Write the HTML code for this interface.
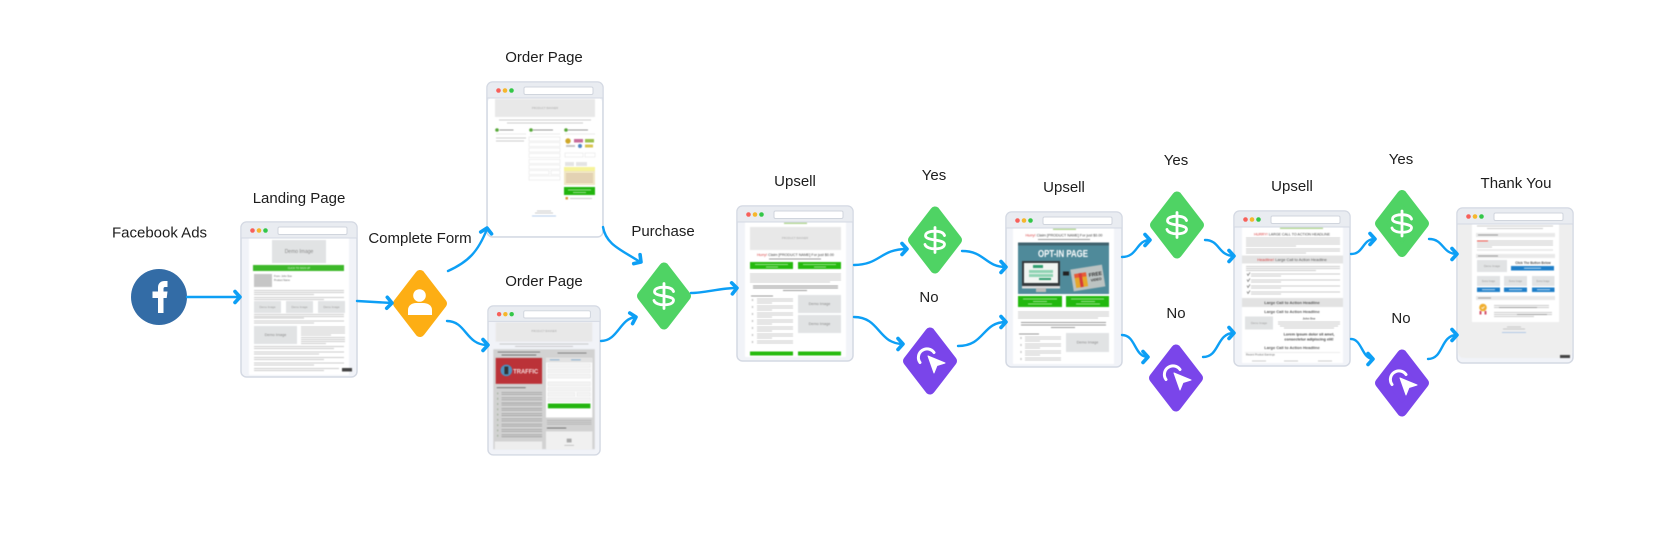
<!DOCTYPE html>
<html><head><meta charset="utf-8"><title>Funnel</title>
<style>
html,body{margin:0;padding:0;background:#fff;width:1680px;height:543px;overflow:hidden}
svg{display:block;filter:blur(.3px)}
.lb{font-family:"Liberation Sans",sans-serif;font-size:15px;fill:#1d1d1d;text-anchor:middle;dominant-baseline:central}
.b{filter:blur(.45px)}
.t{font-family:"Liberation Sans",sans-serif;text-anchor:middle;fill:#666}
.l{stroke:#bcbcbc;stroke-width:.8;fill:none}
.d{stroke:#9a9a9a;stroke-width:.9;fill:none}
.a{stroke:#0d9ff5;stroke-width:2.4;fill:none;stroke-linecap:round}
.h{stroke:#0d9ff5;stroke-width:3.6;fill:none;stroke-linecap:round;stroke-linejoin:round}
</style></head><body>
<svg xmlns="http://www.w3.org/2000/svg" width="1680" height="543" viewBox="0 0 1680 543">
<defs>
<g id="chrome">
<rect x="0" y="0" width="116" height="155" rx="5.5" fill="#f1f3f8" stroke="#d4d9e3" stroke-width="1.5"/>
</g>
<g id="bar">
<path d="M0 16V5.5A5.5 5.5 0 0 1 5.500 0H110.500A5.500 5.500 0 0 1 116 5.500V16Z" fill="#e9ecf1" stroke="#d4d9e3" stroke-width="1"/>
<circle cx="11.500" cy="8.500" r="2.300" fill="#f8605a"/><circle cx="18" cy="8.500" r="2.300" fill="#f6b62c"/><circle cx="24.500" cy="8.500" r="2.300" fill="#33c748"/>
<rect x="37" y="5" width="69" height="7.500" rx="1.500" fill="#fff" stroke="#d0d5dd" stroke-width="1"/>
</g>
<path id="hd" d="M-5 -5.500L0 0L-5 5.500"/>
<g id="dollar"><path d="M9.500 -4.500C8.500 -7.500 4.500 -8.800 0 -8.800C-5.500 -8.800 -9.500 -7.300 -9.500 -4.300C-9.500 1 9.500 -1 9.500 4.300C9.500 7.300 5.500 8.800 0 8.800C-4.500 8.800 -9 7.500 -10 4.500M0 -12.500V12.500" fill="none" stroke="#fff" stroke-width="2.800" stroke-linecap="round"/></g>
<g id="green"><polygon points="0,-28.500 22,0 0,28.500 -22,0" fill="#4fd364" stroke="#4fd364" stroke-width="10" stroke-linejoin="round"/><use href="#dollar"/></g>
<g id="purple"><polygon points="0,-28.500 22,0 0,28.500 -22,0" fill="#7a45ea" stroke="#7a45ea" stroke-width="10" stroke-linejoin="round"/>
<path d="M4 -8.500A7.500 7.500 0 1 0 -10 1.500" fill="none" stroke="#fff" stroke-width="3" stroke-linecap="round"/>
<path d="M-2 -5L15 2L7 4.500L4 12Z" fill="#fff" stroke="#fff" stroke-width="1" stroke-linejoin="round"/></g>
</defs>

<!-- Landing -->
<g transform="translate(241,222)"><use href="#chrome"/>
<g class="b">
<rect x="8" y="16" width="100" height="137" fill="#fff"/>
<rect x="31" y="18" width="54" height="23" fill="#e1e3e4"/><text class="t" x="58" y="31" font-size="5" style="fill:#888">Demo Image</text>
<rect x="12" y="43" width="91" height="6" fill="#3db82a"/><text class="t" x="58" y="47" font-size="2.500" style="fill:#e8f6e4">CLICK TO SIGN UP</text>
<rect x="13" y="52" width="18" height="13" fill="#c6c6c6"/>
<text x="33" y="55" font-size="2.500" fill="#666" font-family="Liberation Sans">From: John Doe</text><text x="33" y="59" font-size="2.500" fill="#666" font-family="Liberation Sans">Product Name</text>
<path class="l" d="M13 68.500h90M13 70.500h90M13 72.500h60M13 75.500h90M13 77.500h70"/>
<rect x="13" y="79" width="27" height="12" fill="#e1e3e4"/><rect x="45" y="79" width="27" height="12" fill="#e1e3e4"/><rect x="77" y="79" width="27" height="12" fill="#e1e3e4"/>
<text class="t" x="26.500" y="86" font-size="2.800" style="fill:#999">Demo Image</text><text class="t" x="58.500" y="86" font-size="2.800" style="fill:#999">Demo Image</text><text class="t" x="90.500" y="86" font-size="2.800" style="fill:#999">Demo Image</text>
<path class="l" d="M13 92.500h90M13 94.500h90M13 96h50M13 99h90M13 101h60"/>
<rect x="13" y="104" width="43" height="18" fill="#e1e3e4"/><text class="t" x="34.500" y="114" font-size="3.800" style="fill:#888">Demo Image</text>
<path class="l" d="M60 105h44M60 107h44M60 109h44M60 111h44M60 113h30M60 115.500h44M60 117.500h44M60 119.500h44M60 121.500h25"/>
<path class="l" d="M13 124.500h90M13 126.500h80M13 130h90M13 132h65M13 135.500h90M13 137.500h70M13 141h90M13 143h60M13 146.500h85M13 148.500h70"/>
<rect x="101" y="146" width="10" height="3.500" fill="#444"/>
</g>
<use href="#bar"/></g>

<!-- Order top -->
<g transform="translate(487,82)"><use href="#chrome"/><rect x="1" y="16" width="114" height="138" rx="4" fill="#fff"/>
<g class="b">
<rect x="8" y="17" width="100" height="18" fill="#e8e8e8"/><text class="t" x="58" y="27" font-size="2.800" style="fill:#aaa">PRODUCT BANNER</text>
<path class="l" d="M12 38h92M20 41h76"/>
<circle cx="10" cy="48" r="1.800" fill="#58a83a"/><circle cx="44" cy="48" r="1.800" fill="#58a83a"/><circle cx="79" cy="48" r="1.800" fill="#58a83a"/>
<path class="d" d="M12.500 48h14M46 48h20M81 48h20"/>
<path d="M9 52h30M43 52h30M78 52h30" stroke="#e3e3e3" stroke-width=".7"/>
<path class="l" d="M9 56h30M9 59h28"/>
<g fill="#fff" stroke="#e4e4e4" stroke-width=".6"><rect x="42" y="55" width="31" height="4"/><rect x="42" y="60.500" width="31" height="4"/><rect x="42" y="66" width="31" height="4"/><rect x="42" y="71.500" width="31" height="4"/><rect x="42" y="77.500" width="31" height="4"/><rect x="42" y="83" width="31" height="4"/><rect x="42" y="88.500" width="20" height="4"/><rect x="64" y="88.500" width="9" height="4"/><rect x="42" y="94" width="31" height="4"/>
<rect x="78" y="71" width="18" height="4"/><rect x="98" y="71" width="10" height="4"/></g>
<circle cx="81" cy="59" r="2.700" fill="#cfa72a"/><rect x="87" y="57" width="9" height="3.500" fill="#c86c9a"/><rect x="98" y="57" width="9" height="3.500" fill="#9cc24e"/>
<rect x="79" y="63" width="9" height="2" fill="#c7c7c7"/><circle cx="93" cy="64" r="2" fill="#4e85c4"/><rect x="98" y="62.500" width="8" height="3" fill="#d8c44e"/>
<rect x="78" y="80" width="9" height="4" fill="#e4e4e4"/><rect x="89" y="80" width="11" height="4" fill="#e4e4e4"/>
<rect x="77" y="85" width="31" height="18" fill="#f0e6c4"/><rect x="77" y="85" width="31" height="4" fill="#f6f39a"/><path class="d" d="M79 92h27M79 94h27M79 96h27M79 98h27M79 100h27" style="stroke:#d6bda2"/>
<rect x="77" y="105" width="31" height="8" fill="#22b50e"/><path d="M81 108h23M86 110.500h13" stroke="#bfeab8" stroke-width=".8"/>
<rect x="78.500" y="115" width="2.500" height="2.500" fill="#d89a3a"/><path class="l" d="M83 116.500h22"/>
<path class="l" d="M50 129h14M48 131h18"/><path d="M45 134h24" stroke="#9dbce3" stroke-width=".8"/>
</g><use href="#bar"/></g>

<!-- Order bottom -->
<g transform="translate(488,306) scale(.966,.961)"><use href="#chrome"/><rect x="1" y="16" width="114" height="138" rx="4" fill="#f1f3f8"/>
<g class="b">
<rect x="8" y="17" width="100" height="20" fill="#e8e8e8"/><text class="t" x="58" y="27" font-size="2.800" style="fill:#aaa">PRODUCT BANNER</text>
<path class="l" d="M12 39.500h92M28 42h60"/>
<rect x="5.500" y="45" width="105" height="104" fill="#d2d2d2"/>
<path d="M10 48h44M14 51h36" stroke="#666" stroke-width=".9"/>
<rect x="8" y="54" width="48" height="27" fill="#bb3238"/><circle cx="19" cy="67" r="6" fill="#4d91bf"/><rect x="17" y="63" width="4" height="8" fill="#333"/>
<text x="26" y="70" font-size="7" font-weight="bold" fill="#f5e0e0" font-family="Liberation Sans" textLength="26" lengthAdjust="spacingAndGlyphs">TRAFFIC</text>
<path d="M9 85h30" stroke="#666" stroke-width=".9"/>
<path d="M14 90h42M14 92h42M14 95.500h42M14 97.500h42M14 101h42M14 103h42M14 106.500h42M14 108.500h42M14 112h42M14 114h42M14 117.500h42M14 119.500h42M14 123h42M14 125h42M14 128.500h42M14 130.500h42M14 134h42M14 136h42" stroke="#9e9e9e" stroke-width=".8"/>
<path d="M10 90v47" stroke="#a9b5a5" stroke-width="1.300" stroke-dasharray="2 3.500"/>
<rect x="7" y="141" width="49" height="8" fill="#eeeeee"/>
<path d="M72 49h30" stroke="#777" stroke-width=".9"/>
<rect x="60" y="54" width="48" height="62" fill="#fff"/><path d="M60 56.500h48" stroke="#e2e2e2" stroke-width="4.500"/><path d="M64 56h10M86 56h10" stroke="#7ba6cc" stroke-width="1"/>
<g fill="#f3f3f3" stroke="#e4e4e4" stroke-width=".5"><rect x="62" y="60" width="44" height="4"/><rect x="62" y="65.500" width="44" height="4"/><rect x="62" y="71" width="44" height="4"/><rect x="62" y="79" width="44" height="4"/><rect x="62" y="84.500" width="44" height="4"/><rect x="62" y="90" width="28" height="4"/><rect x="92" y="90" width="14" height="4"/><rect x="62" y="95.500" width="44" height="4"/></g>
<rect x="62" y="101.500" width="44" height="5" fill="#22b50e"/>
<path d="M61 119h46M61 121h46M61 123h46" stroke="#ababab" stroke-width=".7"/>
<path d="M61 127h20" stroke="#666" stroke-width=".9"/>
<rect x="60" y="130.500" width="48" height="18.500" fill="#f0f0f0"/><rect x="81.500" y="138" width="5" height="4" fill="#aaa"/><path d="M79 145h10" stroke="#bbb" stroke-width=".8"/>
</g><use href="#bar"/></g>

<!-- Upsell 1 -->
<g transform="translate(737,206)"><use href="#chrome"/>
<g class="b">
<rect x="8" y="16" width="101" height="135" fill="#fff"/>
<rect x="47" y="16" width="23" height="2" fill="#b7d89b"/>
<rect x="13" y="21" width="91" height="23" fill="#e8e8e8"/><text class="t" x="58" y="33" font-size="2.800" style="fill:#aaa">PRODUCT BANNER</text>
<text class="t" x="58.500" y="50" font-size="3.700" style="fill:#444"><tspan fill="#d83a3a">Hurry!</tspan> Claim [PRODUCT NAME] For just $0.00</text>
<path class="d" d="M32 53h52"/>
<rect x="13" y="56" width="43" height="7" fill="#25ba0e"/><rect x="61" y="56" width="43" height="7" fill="#25ba0e"/>
<path d="M18 58.500h33M29 61h12M66 58.500h33M77 61h12" stroke="#b9ecae" stroke-width=".7"/>
<path class="l" d="M13 68h91M13 70h91M13 72h91M13 74h91M13 76h80"/><path class="d" d="M16 80h85M16 82h85M46 84.500h24"/>
<path class="d" d="M14 90h22"/>
<path class="l" d="M20 93h36M20 95h36M20 97h15M20 100h36M20 102h36M20 104h15M20 107h36M20 109h36M20 111h15M20 114h36M20 116h36M20 118h15M20 121h36M20 123h36M20 125h15M20 128h36M20 130h36M20 132h15M20 135h36M20 137h36"/>
<path d="M15.500 93v44" stroke="#c4c4c4" stroke-width="1.300" stroke-dasharray="2 5"/>
<rect x="61" y="89" width="43" height="18" fill="#e1e3e4"/><rect x="61" y="109" width="43" height="18" fill="#e1e3e4"/>
<text class="t" x="82.500" y="99" font-size="3.800" style="fill:#888">Demo Image</text><text class="t" x="82.500" y="119" font-size="3.800" style="fill:#888">Demo Image</text>
<rect x="13" y="145.500" width="43" height="4" fill="#25ba0e"/><rect x="61" y="145.500" width="43" height="4" fill="#25ba0e"/>
</g><use href="#bar"/></g>

<!-- Upsell 2 -->
<g transform="translate(1006,212)"><use href="#chrome"/>
<g class="b">
<rect x="7" y="16" width="101" height="136" fill="#fff"/>
<rect x="47" y="16" width="23" height="2" fill="#b7d89b"/>
<text class="t" x="58" y="24.500" font-size="3.700" style="fill:#444"><tspan fill="#d83a3a">Hurry!</tspan> Claim [PRODUCT NAME] For just $0.00</text>
<path class="d" d="M32 27.500h52"/>
<rect x="12" y="30.500" width="91" height="51.500" fill="#4f8a9a"/><rect x="12" y="30.500" width="91" height="3" fill="#3f626e"/>
<text x="57" y="45" font-size="10.500" font-weight="bold" fill="#fff" text-anchor="middle" font-family="Liberation Sans" textLength="50" lengthAdjust="spacingAndGlyphs">OPT-IN PAGE</text>
<rect x="16" y="49" width="38" height="25" fill="#35393c"/><rect x="18" y="51" width="34" height="20" fill="#f2f5f2"/>
<rect x="27" y="53" width="10" height="3" fill="#2f9e6e"/><rect x="23" y="58" width="24" height="3" fill="#8fd3b3"/><rect x="23" y="62" width="24" height="3" fill="#8fd3b3"/><rect x="33" y="66" width="12" height="2" fill="#2f9e6e"/>
<rect x="16" y="74" width="38" height="2.500" fill="#ddd"/><rect x="30" y="76" width="10" height="4" fill="#bbb"/>
<rect x="57" y="59.500" width="6" height="4" fill="#222"/>
<g transform="rotate(-9 82 67)"><rect x="66" y="55" width="32" height="22" fill="#bcc3c2"/>
<rect x="69" y="63" width="12" height="11" fill="#e6a72a"/><rect x="69" y="60" width="12" height="4" fill="#e85a35"/><rect x="73.500" y="60" width="3" height="14" fill="#d43a3a"/>
<text x="90" y="65" font-size="5" font-weight="bold" fill="#333" text-anchor="middle" font-family="Liberation Sans">FREE</text><text x="90" y="70" font-size="3.500" font-weight="bold" fill="#333" text-anchor="middle" font-family="Liberation Sans">VIDEO</text></g>
<rect x="12" y="84" width="44" height="11" fill="#22b80e"/><rect x="60" y="84" width="43" height="11" fill="#22b80e"/>
<path d="M17 87h34M27 89.500h14M22 92h24M65 87h33M75 89.500h14M70 92h24" stroke="#bdecb4" stroke-width=".7"/>
<path class="l" d="M12 100h91M12 102h91M12 104h91M12 106h80"/><path class="d" d="M15 110.500h85M15 113h85M45 115.500h24"/>
<path class="d" d="M13 122h20"/>
<path class="l" d="M19 125h36M19 127h36M19 129h15M19 132h36M19 134h36M19 136h15M19 139h36M19 141h36M19 143h15M19 146h36M19 148h36"/>
<path d="M15 125v24" stroke="#c4c4c4" stroke-width="1.300" stroke-dasharray="2 5"/>
<rect x="60" y="121" width="43" height="19" fill="#e1e3e4"/><text class="t" x="81.500" y="131.500" font-size="3.800" style="fill:#888">Demo Image</text>
</g><use href="#bar"/></g>

<!-- Upsell 3 -->
<g transform="translate(1234,211)"><use href="#chrome"/>
<g class="b">
<rect x="8" y="16" width="101" height="136" fill="#fff"/>
<rect x="46" y="16" width="43" height="2" fill="#b7d89b"/>
<text class="t" x="58" y="24.500" font-size="3.600" style="fill:#444"><tspan fill="#d83a3a">HURRY!</tspan> LARGE CALL TO ACTION HEADLINE</text>
<path class="l" d="M12 27h94M12 29h94M12 31h94M12 33h94M12 35h50M12 38h94M12 40h94M12 42h60"/>
<rect x="8" y="44.500" width="101" height="8" fill="#e4e4e4"/><text class="t" x="58" y="50" font-size="4" style="fill:#555"><tspan fill="#d83a3a">Headline!</tspan> Large Call to Action Headline</text>
<path class="l" d="M12 55.500h94M12 57.500h94M12 59.500h70"/>
<path class="l" d="M17 63h89M17 65h30M17 69h89M17 71h30M17 75h89M17 77h30M17 81h89M17 83h30"/>
<path d="M13 62.500l1 2 2-3M13 68.500l1 2 2-3M13 74.500l1 2 2-3M13 80.500l1 2 2-3" stroke="#777" stroke-width=".7" fill="none"/>
<rect x="8" y="87" width="101" height="9" fill="#e2e2e2"/><text class="t" x="58" y="93" font-size="4" font-weight="bold" style="fill:#555">Large Call to Action Headline</text>
<text class="t" x="58" y="102" font-size="4" font-weight="bold" style="fill:#555">Large Call to Action Headline</text>
<rect x="11" y="105.500" width="28" height="13" fill="#e1e3e4"/><text class="t" x="25" y="113" font-size="2.800" style="fill:#999">Demo Image</text>
<text class="t" x="75" y="108.500" font-size="2.800" font-weight="bold" style="fill:#555">John Doe</text>
<path class="l" d="M44 111h62M44 113h62M46 115h58M50 117h50"/>
<text class="t" x="75" y="124.500" font-size="3.800" font-weight="bold" style="fill:#444">Lorem ipsum dolor sit amet,</text><text class="t" x="75" y="129.500" font-size="3.800" font-weight="bold" style="fill:#444">consectetur adipiscing elit!</text>
<text class="t" x="58" y="138" font-size="4" font-weight="bold" style="fill:#555">Large Call to Action Headline</text>
<path d="M11 141.500h95" stroke="#e6e6e6" stroke-width=".8"/>
<text x="12" y="144.500" font-size="2.600" fill="#666" font-family="Liberation Sans">Recent Product Earnings</text>
<path class="l" d="M18 150h14M50 150h14M84 150h14"/>
</g><use href="#bar"/></g>

<!-- Thank You -->
<g transform="translate(1457,208)"><use href="#chrome"/>
<g class="b">
<path d="M1 16H115V144A6 6 0 0 1 109 150H7A6 6 0 0 1 1 144Z" fill="#eeeeee"/>
<rect x="15" y="16" width="87" height="98" fill="#fff"/>
<path class="l" d="M20 18h76M30 20.500h56"/>
<rect x="19" y="25" width="79" height="4" fill="#e9e9e9"/><path class="d" d="M21 27h20"/>
<path d="M20 33h11" stroke="#e0473c" stroke-width="1"/><path class="l" d="M31 33h65M20 35h76M20 37h76M20 39h15"/>
<path d="M20 42h76" stroke="#e2e2e2" stroke-width="1.300"/>
<rect x="19" y="46" width="79" height="4" fill="#e9e9e9"/><path class="d" d="M21 48h20"/>
<rect x="20" y="52" width="30" height="12" fill="#e1e3e4"/><text class="t" x="35" y="59" font-size="2.800" style="fill:#999">Demo Image</text>
<text class="t" x="76" y="56" font-size="3.200" font-weight="bold" style="fill:#555">Click The Button Below</text>
<rect x="54" y="58" width="43" height="4.500" fill="#1f7fc9"/><path d="M67 60.200h17" stroke="#cfe6f7" stroke-width=".8"/>
<rect x="20" y="68" width="23" height="10" fill="#e1e3e4"/><rect x="47" y="68" width="23" height="10" fill="#e1e3e4"/><rect x="75" y="68" width="22.500" height="10" fill="#e1e3e4"/>
<text class="t" x="31.500" y="74" font-size="2.300" style="fill:#999">Demo Image</text><text class="t" x="58.500" y="74" font-size="2.300" style="fill:#999">Demo Image</text><text class="t" x="86" y="74" font-size="2.300" style="fill:#999">Demo Image</text>
<rect x="20" y="79.500" width="23" height="4.500" fill="#1f7fc9"/><rect x="47" y="79.500" width="23" height="4.500" fill="#1f7fc9"/><rect x="75" y="79.500" width="22.500" height="4.500" fill="#1f7fc9"/>
<path d="M25 81.700h13M52 81.700h13M80 81.700h13" stroke="#cfe6f7" stroke-width=".8"/>
<rect x="19" y="88" width="79" height="4" fill="#e9e9e9"/><path class="d" d="M21 90h13"/>
<circle cx="26" cy="99.500" r="3.800" fill="#f0ae2e"/><path d="M24.500 99.500l1 1 2-2" stroke="#fff" stroke-width=".8" fill="none"/><path d="M23.500 103v3.500M28.500 103v3.500" stroke="#d6506a" stroke-width="2"/>
<path class="l" d="M37 97.500h55M37 99.500h55M37 104.500h58M37 106.500h58M37 108.500h40"/><path class="d" d="M42 99.500h38M60 106.500h30"/>
<path class="l" d="M50 119h14M46 121h22"/><path d="M45 124.500h24" stroke="#9dbce3" stroke-width=".8"/>
<rect x="103" y="147" width="10" height="3" fill="#444"/>
</g><use href="#bar"/></g>

<!-- Facebook -->
<circle cx="159" cy="297" r="28" fill="#336ca6"/>
<path d="M158 313V298H152.500V291.500H158V287.500C158 283 161 281 164.500 281H167.500V287H165C164 287 163.500 287.600 163.500 288.800V291.500H167.500L166.700 298H163.500V313Z" fill="#fff"/>

<!-- Diamonds -->
<g transform="translate(420,303.500)"><polygon points="0,-28.500 22,0 0,28.500 -22,0" fill="#fdae14" stroke="#fdae14" stroke-width="10" stroke-linejoin="round"/>
<circle cx="-.5" cy="-8" r="6.300" fill="#fff"/><path d="M-12 11.500V6.500C-12 2 -8 -.5 -4 -.5H3C8 -.5 12 2 12 6.500V11.500Z" fill="#fff"/></g>
<use href="#green" x="664" y="296"/>
<use href="#green" x="935" y="240"/>
<use href="#purple" x="930" y="361"/>
<use href="#green" x="1177" y="225"/>
<use href="#purple" x="1176" y="378"/>
<use href="#green" x="1402" y="223.500"/>
<use href="#purple" x="1402" y="383"/>

<!-- Connectors -->
<path class="a" d="M187 297H240"/><use class="h" href="#hd" transform="translate(240,297)"/>
<path class="a" d="M357 301L392 303"/><use class="h" href="#hd" transform="translate(392,303) rotate(3)"/>
<path class="a" d="M448 271C468 262 478 252 487 229"/><use class="h" href="#hd" transform="translate(487,228) rotate(-80)"/>
<path class="a" d="M447 321C466 321 466 345 487 345"/><use class="h" href="#hd" transform="translate(488,345)"/>
<path class="a" d="M603 227C606 245 622 250 640 262"/><use class="h" href="#hd" transform="translate(641,262) rotate(35)"/>
<path class="a" d="M601 341C618 341 620 318 636 317"/><use class="h" href="#hd" transform="translate(636,317) rotate(-15)"/>
<path class="a" d="M691 293C705 293 720 288 737 288"/><use class="h" href="#hd" transform="translate(737,288) rotate(-4)"/>
<path class="a" d="M854 265C880 265 880 249 907 249"/><use class="h" href="#hd" transform="translate(907,249)"/>
<path class="a" d="M854 317C880 317 878 344 903 344"/><use class="h" href="#hd" transform="translate(903,344)"/>
<path class="a" d="M962 251C985 251 985 267 1006 267"/><use class="h" href="#hd" transform="translate(1006,267)"/>
<path class="a" d="M958 346C985 346 982 322 1006 322"/><use class="h" href="#hd" transform="translate(1006,322)"/>
<path class="a" d="M1122 257C1138 257 1136 240 1150 240"/><use class="h" href="#hd" transform="translate(1150,240)"/>
<path class="a" d="M1122 335C1136 335 1134 357 1148 357"/><use class="h" href="#hd" transform="translate(1148,357)"/>
<path class="a" d="M1205 240C1220 240 1218 256 1234 256"/><use class="h" href="#hd" transform="translate(1234,256)"/>
<path class="a" d="M1203 357C1220 357 1216 333 1234 333"/><use class="h" href="#hd" transform="translate(1234,333)"/>
<path class="a" d="M1351 254C1364 254 1362 239 1375 239"/><use class="h" href="#hd" transform="translate(1375,239)"/>
<path class="a" d="M1351 339C1362 339 1362 359 1373 359"/><use class="h" href="#hd" transform="translate(1373,359)"/>
<path class="a" d="M1429 239C1444 239 1442 254 1457 254"/><use class="h" href="#hd" transform="translate(1457,254)"/>
<path class="a" d="M1428 359C1444 359 1440 335 1457 335"/><use class="h" href="#hd" transform="translate(1457,335)"/>

<!-- Labels -->
<text class="lb" x="159.500" y="233">Facebook Ads</text>
<text class="lb" x="299" y="198.500">Landing Page</text>
<text class="lb" x="420" y="238.500">Complete Form</text>
<text class="lb" x="544" y="57.500">Order Page</text>
<text class="lb" x="544" y="281.500">Order Page</text>
<text class="lb" x="663" y="231.500">Purchase</text>
<text class="lb" x="795" y="181.500">Upsell</text>
<text class="lb" x="934" y="175.500">Yes</text>
<text class="lb" x="929" y="297.500">No</text>
<text class="lb" x="1064" y="187.500">Upsell</text>
<text class="lb" x="1176" y="160.500">Yes</text>
<text class="lb" x="1176" y="313.500">No</text>
<text class="lb" x="1292" y="186.500">Upsell</text>
<text class="lb" x="1401" y="159.500">Yes</text>
<text class="lb" x="1401" y="318.500">No</text>
<text class="lb" x="1516" y="183.500">Thank You</text>
</svg>
</body></html>
